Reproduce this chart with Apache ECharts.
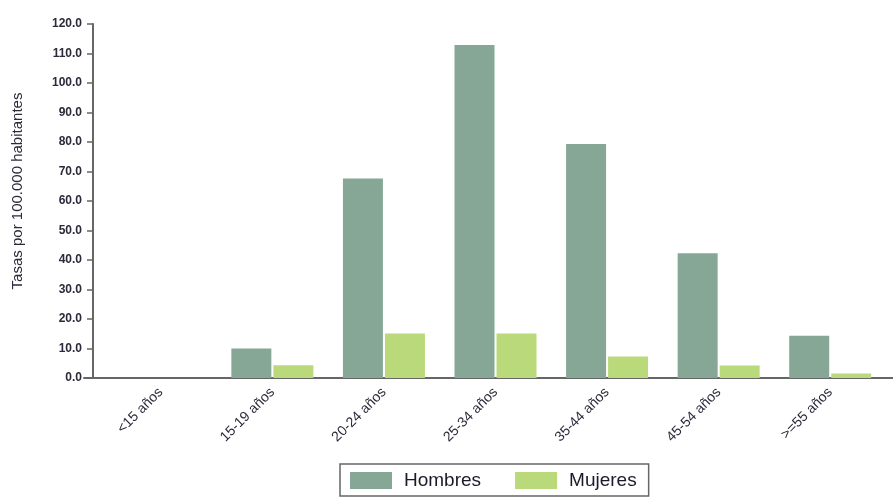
<!DOCTYPE html>
<html><head><meta charset="utf-8">
<script src="https://cdn.jsdelivr.net/npm/echarts@6/dist/echarts.min.js"></script>
<style>html,body{margin:0;padding:0;background:#fff}#c{width:893px;height:498px}</style>
</head><body><div id="c"></div>
<script>
const categories = ['<15 años','15-19 años','20-24 años','25-34 años','35-44 años','45-54 años','>=55 años'];
const hombres = [0, 10.0, 67.6, 112.9, 79.3, 42.3, 14.3];
const mujeres = [0, 4.3, 15.1, 15.1, 7.3, 4.2, 1.5];
const seriesNames = ['Hombres','Mujeres'];
const yTicks = {min:0, max:120, interval:10};

const chart = echarts.init(document.getElementById('c'));
chart.setOption({
  animation:false,
  grid:[
    {left:105, right:7, top:24, bottom:120},
    {left:84, right:0, top:24, bottom:120}
  ],
  legend:{
    data:seriesNames, bottom:2, left:340,
    borderColor:'#666', borderWidth:1.5, padding:[7,12,6,10],
    itemWidth:42, itemHeight:17, itemGap:34,
    textStyle:{fontFamily:'Liberation Sans, Arial', fontSize:19, color:'#1a1a2a', padding:[0,0,0,7]},
    icon:'rect'
  },
  xAxis:[{
    type:'category', data:categories, gridIndex:0,
    axisLine:{show:false}, axisTick:{show:false},
    axisLabel:{rotate:45, fontFamily:'Liberation Sans, Arial', fontSize:14, color:'#2a2a3a', margin:12, interval:0}
  },{
    type:'category', data:[''], gridIndex:1,
    axisLine:{show:true, lineStyle:{color:'#666', width:2}}, axisTick:{show:false}, axisLabel:{show:false}
  }],
  yAxis:[{
    type:'value', gridIndex:0, min:yTicks.min, max:yTicks.max, interval:yTicks.interval, offset:12,
    name:'Tasas por 100.000 habitantes', nameLocation:'middle', nameGap:68,
    nameTextStyle:{fontFamily:'Liberation Sans, Arial', fontSize:15, color:'#2a2a3a', padding:[0,0,0,20]},
    axisLine:{show:true, lineStyle:{color:'#666', width:2}},
    axisTick:{show:true, length:6, lineStyle:{color:'#666', width:1.5}},
    splitLine:{show:false},
    axisLabel:{formatter:v=>v.toFixed(1), fontFamily:'Liberation Sans, Arial', fontSize:12, fontWeight:'bold', color:'#2a2a3a', margin:11}
  },{
    type:'value', gridIndex:1, show:false, min:0, max:1
  }],
  series:[
    {name:seriesNames[0], type:'bar', data:hombres, barWidth:40, barGap:'5%',
     itemStyle:{color:'#86a795'}},
    {name:seriesNames[1], type:'bar', data:mujeres, barWidth:40, barGap:'5%',
     itemStyle:{color:'#b9d97b'}}
  ]
});
</script></body></html>
